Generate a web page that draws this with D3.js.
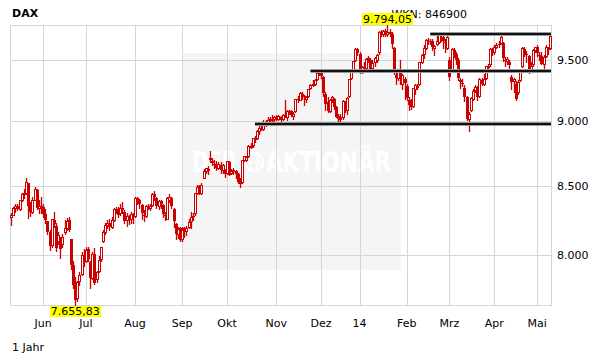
<!DOCTYPE html>
<html>
<head>
<meta charset="utf-8">
<script src="https://cdn.jsdelivr.net/npm/d3@7"></script>
<style>
  body { margin: 0; background: #fff; }
  svg text { font-family: "DejaVu Sans", Verdana, sans-serif; }
</style>
</head>
<body>
<svg id="chart" width="611" height="364"></svg>
<script>
// --- Data: daily candles [open, high, low, close], one array per month ---
const may13 = [
  [8270,8300,8215,8290],[8290,8345,8285,8338],[8335,8365,8310,8355],[8355,8370,8320,8330],[8330,8400,8325,8395],
  [8395,8450,8390,8440],[8440,8480,8410,8450],[8450,8557.86,8440,8530],[8520,8525,8265,8352],[8352,8380,8280,8306],
  [8310,8420,8300,8400],[8400,8490,8395,8480],[8470,8480,8330,8336],[8340,8400,8300,8356],[8356,8420,8300,8348]
];
const jun13 = [
  [8348,8365,8275,8295],[8295,8330,8230,8251],[8240,8245,8150,8160],[8160,8180,8035,8066],[8070,8260,8060,8254],
  [8250,8310,8200,8221],[8210,8230,8030,8047],[8100,8160,8080,8143],[8120,8130,7980,8040],[8080,8150,8060,8127],
  [8160,8250,8150,8190],[8190,8265,8180,8245],[8250,8275,8170,8180],[8110,8115,7900,7928],[7930,7960,7770,7789],
  [7790,7850,7655.83,7692],[7700,7820,7680,7811],[7820,7880,7790,7864],[7870,8020,7860,7997],[8000,8040,7920,7959]
];
const jul13 = [
  [7960,8060,7950,8036],[8040,8060,7960,7974],[7950,7960,7770,7839],[7840,8020,7830,8009],[8010,8050,7800,7807],
  [7830,7890,7810,7878],[7890,7990,7880,7967],[7970,8060,7960,8058],[8100,8180,8090,8160],[8160,8230,8150,8212],
  [8212,8250,8190,8228],[8230,8260,8180,8200],[8200,8270,8190,8250],[8250,8340,8240,8330],[8330,8345,8300,8331],
  [8330,8345,8270,8290],[8300,8365,8290,8340],[8340,8385,8300,8320],[8310,8320,8230,8245],[8250,8300,8210,8277],
  [8270,8290,8220,8259],[8260,8310,8230,8292],[8290,8300,8230,8276]
];
const aug13 = [
  [8280,8420,8270,8411],[8410,8420,8370,8398],[8400,8405,8340,8368],[8360,8370,8260,8298],[8290,8320,8240,8279],
  [8280,8360,8270,8350],[8350,8370,8330,8338],[8340,8370,8320,8356],[8360,8450,8350,8440],[8440,8460,8400,8420],
  [8410,8420,8340,8353],[8350,8400,8330,8391],[8390,8400,8340,8366],[8360,8370,8270,8291],[8290,8310,8250,8281],
  [8260,8420,8255,8410],[8400,8440,8380,8416],[8410,8420,8340,8351],[8330,8340,8200,8242],[8220,8230,8110,8150],
  [8150,8200,8120,8185],[8190,8200,8100,8103]
];
const sep13 = [
  [8110,8200,8100,8180],[8195,8200,8130,8180],[8170,8210,8140,8195],[8200,8260,8190,8234],[8240,8310,8190,8275],
  [8280,8300,8250,8276],[8300,8450,8290,8446],[8450,8510,8440,8495],[8500,8510,8440,8447],[8450,8520,8440,8509],
  [8560,8630,8560,8613],[8610,8640,8600,8636],[8620,8650,8590,8630],[8710,8770,8680,8694],[8690,8710,8660,8675],
  [8670,8700,8640,8665],[8660,8690,8620,8640],[8640,8680,8630,8665],[8660,8680,8600,8620],[8620,8670,8600,8661],
  [8620,8630,8570,8594]
];
const oct13 = [
  [8600,8690,8590,8689],[8680,8690,8580,8587],[8600,8630,8590,8610],[8610,8640,8590,8623],[8610,8620,8560,8591],
  [8590,8600,8520,8534],[8530,8560,8490,8516],[8530,8700,8525,8700],[8700,8730,8690,8725],[8700,8730,8690,8723],
  [8730,8810,8720,8804],[8800,8830,8790,8806],[8810,8870,8800,8867],[8860,8880,8840,8869],[8870,8930,8860,8920],
  [8920,8960,8900,8947],[8940,8970,8930,8934],[8940,9010,8930,8990],[8990,9010,8960,8980],[8990,9030,8980,9010],
  [9010,9030,8990,9015],[9010,9050,8990,9009],[9020,9040,9000,9033]
];
const nov13 = [
  [9030,9050,9010,9020],[9020,9050,9010,9040],[9030,9040,8990,9010],[9020,9060,9010,9050],[9050,9170,9030,9040],
  [9030,9090,9010,9078],[9080,9090,9060,9077],[9080,9090,9040,9050],[9040,9070,9020,9060],[9080,9180,9070,9173],
  [9180,9200,9150,9168],[9170,9230,9165,9225],[9220,9230,9180,9200],[9200,9210,9130,9195],[9180,9200,9150,9190],
  [9200,9260,9190,9255],[9270,9300,9260,9292],[9290,9330,9280,9299],[9300,9340,9290,9335],[9340,9400,9330,9390],
  [9390,9410,9370,9405]
];
const dec13 = [
  [9400,9420,9350,9365],[9360,9365,9200,9225],[9220,9230,9090,9140],[9150,9190,9070,9084],[9080,9180,9070,9172],
  [9180,9200,9150,9190],[9180,9185,9100,9114],[9110,9120,9030,9034],[9040,9060,9000,9017],[9030,9060,9000,9006],
  [9030,9170,9020,9163],[9150,9160,9070,9085],[9090,9190,9060,9181],[9200,9340,9190,9336],[9350,9410,9340,9400],
  [9420,9490,9410,9488],[9500,9600,9490,9589],[9590,9600,9540,9552]
];
const jan14 = [
  [9550,9560,9390,9400],[9400,9450,9390,9435],[9440,9480,9420,9428],[9430,9510,9420,9506],[9510,9530,9480,9498],
  [9500,9510,9410,9421],[9430,9500,9410,9473],[9480,9520,9450,9511],[9500,9550,9480,9540],[9560,9740,9550,9733],
  [9730,9750,9700,9717],[9720,9750,9700,9742],[9740,9760,9700,9716],[9720,9794.05,9700,9730],[9730,9760,9700,9720],
  [9720,9730,9600,9631],[9600,9610,9380,9392],[9370,9400,9300,9349],[9350,9420,9330,9407],[9420,9500,9300,9336],
  [9300,9380,9260,9373],[9340,9360,9180,9306]
];
const feb14 = [
  [9280,9300,9170,9186],[9170,9190,9090,9128],[9140,9180,9100,9116],[9120,9270,9110,9265],[9260,9300,9220,9289],
  [9280,9300,9260,9285],[9300,9480,9290,9478],[9480,9550,9470,9540],[9550,9620,9510,9596],[9600,9670,9590,9662],
  [9660,9680,9630,9657],[9660,9670,9630,9659],[9660,9670,9580,9610],[9600,9620,9540,9618],[9630,9700,9620,9656],
  [9650,9720,9640,9708],[9710,9720,9660,9699],[9690,9700,9600,9661],[9650,9670,9560,9640],[9600,9700,9590,9692]
];
const mar14 = [
  [9500,9520,9330,9358],[9420,9600,9410,9589],[9580,9600,9520,9542],[9550,9560,9460,9498],[9500,9510,9330,9350],
  [9330,9350,9270,9311],[9310,9340,9280,9307],[9270,9290,9160,9189],[9190,9200,9010,9017],[9020,9070,8920,9056],
  [9090,9190,9080,9181],[9180,9260,9170,9242],[9250,9290,9230,9277],[9270,9280,9170,9190],[9200,9350,9190,9342],
  [9330,9345,9290,9300],[9300,9380,9290,9338],[9350,9450,9340,9448],[9440,9460,9410,9451],[9460,9600,9450,9587],
  [9580,9600,9540,9556]
];
const apr14 = [
  [9560,9620,9550,9603],[9610,9640,9600,9623],[9630,9660,9610,9629],[9640,9720,9630,9695],[9640,9650,9490,9510],
  [9500,9520,9450,9490],[9490,9520,9460,9506],[9480,9500,9420,9455],[9360,9370,9260,9315],[9320,9350,9230,9339],
  [9300,9320,9170,9173],[9230,9330,9220,9318],[9330,9420,9320,9409],[9450,9610,9440,9600],[9590,9610,9530,9545],
  [9550,9570,9480,9548],[9530,9540,9390,9401],[9420,9480,9400,9446],[9460,9590,9450,9584],[9580,9610,9560,9603]
];
const may14 = [
  [9610,9620,9530,9556],[9540,9560,9500,9530],[9530,9560,9460,9467],[9460,9540,9420,9521],[9530,9620,9520,9608],
  [9600,9610,9550,9581],[9600,9710,9590,9703]
];

const months = [may13, jun13, jul13, aug13, sep13, oct13, nov13, dec13, jan14, feb14, mar14, apr14, may14];
// label for the gridline at the first trading day of each month (from jun13 on)
const monthLabels = ["Jun", "Jul", "Aug", "Sep", "Okt", "Nov", "Dez", "14", "Feb", "Mrz", "Apr", "Mai"];
const yTicks = [8000, 8500, 9000, 9500];

// horizontal support / resistance lines: level and first candle index
const levels = [9717, 9406, 8975];
const levelFrom = [197, 141, 115];

// --- Layout ---
const plot = { left: 10, top: 25, right: 551, bottom: 305 };
const red = "#cc0000";
const grid = "#d6d6d6";

const candles = [].concat(...months);
const monthStart = [];
let acc = 0;
months.forEach((m, k) => { if (k > 0) monthStart.push(acc); acc += m.length; });

const deFmt = d3.formatLocale({ decimal: ",", thousands: ".", grouping: [3], currency: ["", "€"] });
const fmt0 = deFmt.format(",.0f");
const fmt2 = deFmt.format(",.2f");

const svg = d3.select("#chart");

const x = d3.scaleBand()
  .domain(d3.range(candles.length))
  .range([plot.left, plot.right]);
const cx = i => x(i) + x.bandwidth() / 2;

const lo = d3.min(candles, d => d[2]);
const hi = d3.max(candles, d => d[1]);
const y = d3.scaleLog().domain([lo, hi]).range([plot.bottom, plot.top]);

// --- Watermark panel ---
svg.append("rect")
  .attr("x", 182).attr("y", 53).attr("width", 219).attr("height", 217)
  .attr("fill", "#f5f5f5");

const wm = svg.append("g").attr("fill", "#fff");
wm.append("text")
  .attr("x", 192).attr("y", 172)
  .attr("textLength", 45).attr("lengthAdjust", "spacingAndGlyphs")
  .style("font-size", "28px").style("font-weight", "bold")
  .text("DER");
wm.append("circle").attr("cx", 254).attr("cy", 162).attr("r", 9)
  .attr("fill", "none").attr("stroke", "#fff").attr("stroke-width", 2.5);
wm.append("ellipse").attr("cx", 254).attr("cy", 162).attr("rx", 4).attr("ry", 8)
  .attr("fill", "none").attr("stroke", "#fff").attr("stroke-width", 1.2);
wm.append("line").attr("x1", 246).attr("x2", 262).attr("y1", 162).attr("y2", 162)
  .attr("stroke", "#fff").attr("stroke-width", 1.2);
wm.append("text")
  .attr("x", 266).attr("y", 172)
  .attr("textLength", 125).attr("lengthAdjust", "spacingAndGlyphs")
  .style("font-size", "28px").style("font-weight", "bold")
  .text("AKTIONÄR");

// --- Grid ---
svg.append("g").selectAll("line")
  .data(monthStart)
  .join("line")
  .attr("x1", i => Math.round(cx(i)) + 0.5).attr("x2", i => Math.round(cx(i)) + 0.5)
  .attr("y1", plot.top).attr("y2", plot.bottom)
  .attr("stroke", grid);

svg.append("g").selectAll("line")
  .data(yTicks)
  .join("line")
  .attr("x1", plot.left).attr("x2", plot.right)
  .attr("y1", v => Math.round(y(v)) + 0.5).attr("y2", v => Math.round(y(v)) + 0.5)
  .attr("stroke", grid);

svg.append("rect")
  .attr("x", plot.left + 0.5).attr("y", plot.top + 0.5)
  .attr("width", plot.right - plot.left).attr("height", plot.bottom - plot.top)
  .attr("fill", "none").attr("stroke", grid);

// --- Axis labels ---
svg.append("g").selectAll("text")
  .data(yTicks)
  .join("text")
  .attr("x", 557).attr("y", v => y(v) + 4)
  .style("font-size", "11px").attr("fill", "#000")
  .text(v => fmt0(v));

svg.append("g").selectAll("text")
  .data(monthStart)
  .join("text")
  .attr("x", i => cx(i)).attr("y", 327)
  .attr("text-anchor", "middle")
  .style("font-size", "11px").attr("fill", "#000")
  .text((i, k) => monthLabels[k]);

// --- Candles ---
const cg = svg.append("g");
candles.forEach((d, i) => {
  const [o, h, l, c] = d;
  const px = Math.round(cx(i));
  cg.append("line")
    .attr("x1", px + 0.5).attr("x2", px + 0.5)
    .attr("y1", Math.round(y(h))).attr("y2", Math.round(y(l)) + 1)
    .attr("stroke", red).attr("stroke-width", 1.3);
  const yo = Math.round(y(o)), yc = Math.round(y(c));
  if (c >= o) {
    cg.append("rect")
      .attr("x", px - 0.5).attr("y", yc + 0.5)
      .attr("width", 2).attr("height", Math.max(1, yo - yc))
      .attr("fill", "#fff").attr("stroke", red);
  } else {
    cg.append("rect")
      .attr("x", px - 1).attr("y", yo)
      .attr("width", 3).attr("height", Math.max(1, yc - yo))
      .attr("fill", red);
  }
});

// --- Support / resistance lines ---
const lg = svg.append("g");
levels.forEach((v, k) => {
  const yy = Math.round(y(v));
  lg.append("line")
    .attr("x1", cx(levelFrom[k]) - 2).attr("x2", plot.right)
    .attr("y1", yy).attr("y2", yy)
    .attr("stroke", "#9a9a9a").attr("stroke-width", 4);
  lg.append("line")
    .attr("x1", cx(levelFrom[k]) - 2).attr("x2", plot.right)
    .attr("y1", yy).attr("y2", yy)
    .attr("stroke", "#111").attr("stroke-width", 2);
});

// --- Titles ---
svg.append("text")
  .attr("x", 12).attr("y", 17)
  .style("font-size", "11px").style("font-weight", "bold")
  .text("DAX");

svg.append("text")
  .attr("x", 467).attr("y", 18).attr("text-anchor", "end")
  .style("font-size", "11px")
  .text("WKN: 846900");

svg.append("text")
  .attr("x", 12).attr("y", 351)
  .style("font-size", "11px")
  .text("1 Jahr");

// --- High / low markers ---
const hiIdx = d3.maxIndex(candles, d => d[1]);
const loIdx = d3.minIndex(candles, d => d[2]);

function marker(idx, val, top, h) {
  const g = svg.append("g");
  const t = g.append("text")
    .attr("x", cx(idx)).attr("y", top + h - 2)
    .attr("text-anchor", "middle")
    .style("font-size", "11px")
    .text(fmt2(val));
  const bb = t.node().getBBox();
  g.insert("rect", "text")
    .attr("x", Math.round(bb.x) - 1).attr("y", top)
    .attr("width", Math.round(bb.width) + 2).attr("height", h)
    .attr("fill", "#ffff00");
}
marker(hiIdx, hi, plot.top - 12, 12);
marker(loIdx, lo, plot.bottom + 1, 11);
</script>
</body>
</html>
